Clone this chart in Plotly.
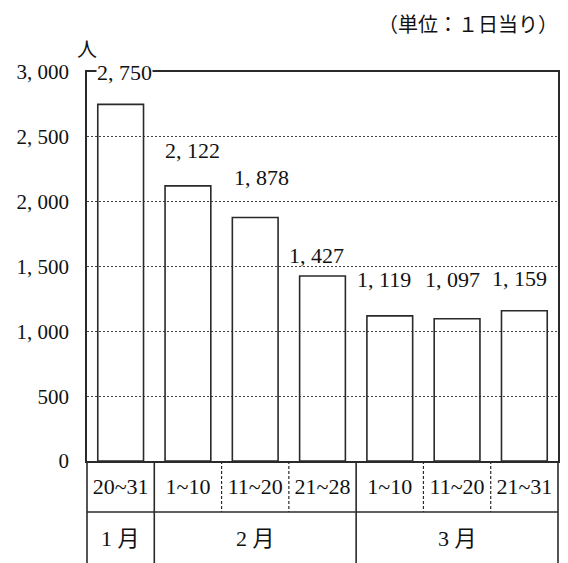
import plotly.graph_objects as go

# ---- data ----
periods = ["20~31", "1~10", "11~20", "21~28", "1~10", "11~20", "21~31"]
values = [2750, 2122, 1878, 1427, 1119, 1097, 1159]
months = ["1 月", "2 月", "3 月"]
month_span = [1, 3, 3]
y_ticks = [0, 500, 1000, 1500, 2000, 2500, 3000]
y_ticktext = ["0", "500", "1, 000", "1, 500", "2, 000", "2, 500", "3, 000"]
unit_label = "人"
note = "（単位：１日当り）"

# ---- label placement styling (pixel offsets) ----
label_dx = [4, 5, 6, -6, -6, -5, -5]
label_dy = [32, 35, 40, 20, 36, 39, 32]

FONT = "Liberation Serif, Noto Sans CJK JP, serif"
LINE = "#2a2a2a"
n = len(periods)
x = list(range(n))

fig = go.Figure()
fig.add_trace(go.Bar(
    x=x, y=values, width=0.68,
    marker=dict(color="rgba(0,0,0,0)", line=dict(color=LINE, width=1.6)),
    hoverinfo="skip",
))

ann = []
for i, v in enumerate(values):
    ann.append(dict(
        x=i, y=v, xref="x", yref="y", text=f"{v:,}".replace(",", ", "),
        showarrow=False, xshift=label_dx[i], yshift=label_dy[i],
        font=dict(family=FONT, size=22, color="#111"),
        bgcolor="white" if i == 0 else "rgba(0,0,0,0)", borderpad=0,
    ))

# table rows below the axis (paper fractions of plot height)
plot_h = 389
row1_bottom = -51 / plot_h
row2_bottom = -0.30
month_y = -77 / plot_h

shapes = []
shapes.append(dict(type="line", xref="x domain", yref="paper", x0=0, x1=1,
                   y0=row1_bottom, y1=row1_bottom, line=dict(color=LINE, width=1.6)))
month_bounds = [0]
for s in month_span:
    month_bounds.append(month_bounds[-1] + s)
for k in range(n + 1):
    xf = k / n
    if k in month_bounds:
        shapes.append(dict(type="line", xref="x domain", yref="paper", x0=xf, x1=xf,
                           y0=0, y1=row2_bottom, line=dict(color=LINE, width=1.6)))
    else:
        shapes.append(dict(type="line", xref="x domain", yref="paper", x0=xf, x1=xf,
                           y0=0, y1=row1_bottom, line=dict(color=LINE, width=1.2, dash="3px,2px")))

for j, m in enumerate(months):
    c = (month_bounds[j] + month_bounds[j + 1]) / 2 / n
    ann.append(dict(x=c, y=month_y, xref="x domain", yref="paper", text=m,
                    showarrow=False, yanchor="middle", xanchor="center",
                    font=dict(family=FONT, size=22, color="#111")))

ann.append(dict(x=0, y=1, xref="paper", yref="paper", text=unit_label, showarrow=False,
                xanchor="center", yanchor="bottom", yshift=7,
                font=dict(family="Noto Sans CJK JP", size=20, color="#111")))
ann.append(dict(x=1, y=1, xref="paper", yref="paper", text=note, showarrow=False,
                xanchor="right", yanchor="middle", yshift=49, xshift=2,
                font=dict(family="Noto Sans CJK JP", size=20, color="#111")))

# the page body adds an 8px margin, so the figure is sized to fill the window exactly
fig.update_layout(
    width=560, height=555,
    margin=dict(l=77, r=8, t=64, b=102),
    paper_bgcolor="white", plot_bgcolor="white",
    showlegend=False,
    annotations=ann, shapes=shapes,
    font=dict(family=FONT, color="#111"),
)
fig.update_xaxes(
    range=[-0.5, n - 0.5], tickvals=x, ticktext=periods, ticks="",
    showgrid=False, showline=True, mirror=True, linecolor=LINE, linewidth=1.6,
    tickfont=dict(family=FONT, size=22, color="#111"), ticklabelstandoff=5,
    zeroline=False,
)
fig.update_yaxes(
    range=[0, 3000], tickvals=y_ticks, ticktext=y_ticktext, ticks="",
    showgrid=True, gridcolor="#444", gridwidth=1, griddash="2px,2px",
    showline=True, mirror=True, linecolor=LINE, linewidth=1.6,
    tickfont=dict(family=FONT, size=21, color="#111"), ticklabelstandoff=12,
    zeroline=False,
)

fig.write_html("out.html")
